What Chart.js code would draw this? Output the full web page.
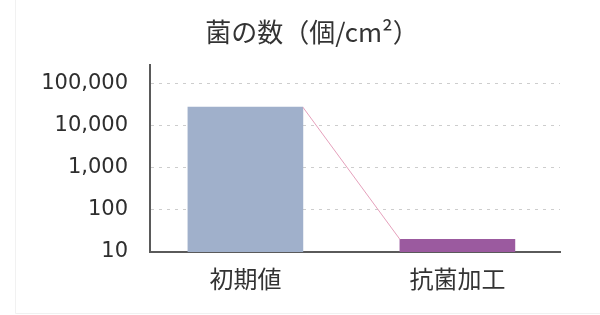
<!DOCTYPE html>
<html>
<head>
<meta charset="utf-8">
<script src="https://cdn.jsdelivr.net/npm/chart.js@4"></script>
<style>
html,body{margin:0;padding:0;background:#fff;}
canvas{display:block;}
</style>
</head>
<body>
<canvas id="myChart" width="600" height="315"></canvas>
<script>
const categories=["初期値","抗菌加工"];
const counts=[28000,20];
const barColors=["#a0b0cb","#9b5a9f"];
const yTicks=[10,100,1000,10000,100000];

// thin line from the top of the first bar to the top of the second
const connector={
    id:"connector",
    afterDatasetsDraw(chart){
        const meta=chart.getDatasetMeta(0);
        const a=meta.data[0], b=meta.data[1];
        if(!a||!b) return;
        const ctx=chart.ctx;
        ctx.save();
        ctx.strokeStyle="rgba(226,150,180,0.9)";
        ctx.lineWidth=1;
        ctx.beginPath();
        ctx.moveTo(a.x+a.width/2,a.y);
        ctx.lineTo(b.x-b.width/2,b.y);
        ctx.stroke();
        ctx.restore();
    },
    beforeDraw(chart){
        // faint frame of the original picture
        const ctx=chart.ctx;
        ctx.save();
        ctx.strokeStyle="#f1f1f1";
        ctx.lineWidth=1;
        ctx.beginPath();
        ctx.moveTo(15.5,0);
        ctx.lineTo(15.5,313.5);
        ctx.lineTo(600,313.5);
        ctx.stroke();
        ctx.restore();
    }
};

const ctx=document.getElementById("myChart").getContext("2d");
const myChart=new Chart(ctx,{
    type:"bar",
    data:{
        datasets:[
            {
                data:counts.map((v,i)=>({x:i,y:v})),
                backgroundColor:barColors,
                borderWidth:0,
                barThickness:115,
            },
        ],
    },
    options:{
        responsive:false,
        animation:false,
        layout:{padding:{left:24,right:0,top:0,bottom:0}},
        plugins:{
            legend:{display:false},
            tooltip:{enabled:false},
            title:{
                display:true,
                text:"菌の数（個/cm²）",
                color:"#333",
                font:{family:"'Noto Sans CJK JP'",size:26,weight:"normal"},
                padding:{top:17,bottom:17},
            },
        },
        scales:{
            x:{
                type:"linear",
                offset:false,
                min:-0.45,
                max:1.484,
                afterBuildTicks:(axis)=>{axis.ticks=categories.map((c,i)=>({value:i}));},
                afterFit:(scale)=>{scale.height=63;},
                grid:{display:false,drawTicks:false},
                border:{display:true,color:"#5a5a5a",width:2},
                ticks:{
                    padding:12,
                    color:"#333",
                    font:{family:"'Noto Sans CJK JP'",size:24},
                    callback:(v)=>categories[v],
                },
            },
            y:{
                type:"logarithmic",
                min:10,
                max:280000,
                afterBuildTicks:(axis)=>{axis.ticks=yTicks.map(v=>({value:v}));},
                afterFit:(scale)=>{scale.width=126;},
                grid:{color:"#cdcdcd",lineWidth:1,drawTicks:false},
                border:{display:true,color:"#5a5a5a",width:2,dash:[3,5]},
                ticks:{
                    padding:22,
                    color:"#2e2e2e",
                    font:{family:"'DejaVu Sans'",size:21},
                    callback:(v)=>Number(v).toLocaleString("en-US"),
                },
            },
            // empty right margin beside the plot
            yRight:{
                type:"linear",
                position:"right",
                afterFit:(scale)=>{scale.width=40;},
                grid:{display:false,drawTicks:false},
                border:{display:false},
                ticks:{display:false},
            },
        },
    },
    plugins:[connector],
});
</script>
</body>
</html>
